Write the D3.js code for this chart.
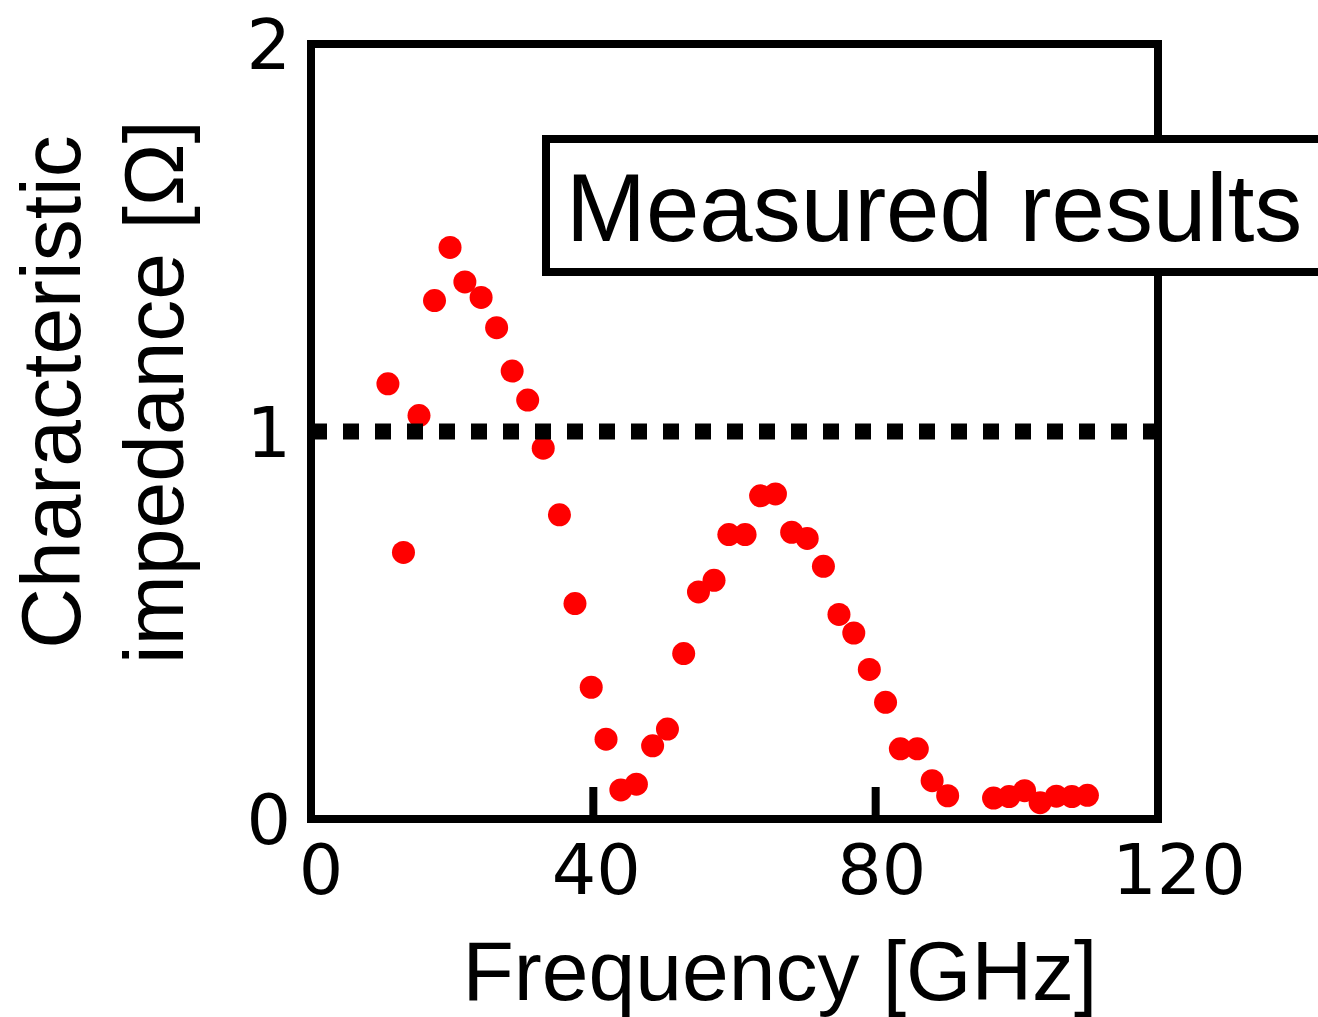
<!DOCTYPE html>
<html>
<head>
<meta charset="utf-8">
<script src="https://cdn.jsdelivr.net/npm/d3@7"></script>
<style>
  html, body { margin: 0; padding: 0; background: #fff; }
  svg { display: block; }
</style>
</head>
<body>
<svg id="chart" width="1318" height="1017"></svg>
<script>
// measured points
const freqGHz = [
  10.9, 13.1, 15.3, 17.5, 19.7, 21.8, 24.1, 26.3, 28.5, 30.7, 32.9, 35.2, 37.4, 39.7, 41.8,
  43.9, 46.1, 48.4, 50.5, 52.8, 54.9, 57.1, 59.2, 61.5, 63.7, 65.8, 68.1, 70.3, 72.6, 74.8,
  76.9, 79.1, 81.4, 83.5, 85.9, 88.0, 90.2, 96.7, 98.9, 101.1, 103.3, 105.6, 107.8, 110.0
];
const impedance = [
  1.123, 0.688, 1.041, 1.338, 1.475, 1.386, 1.346, 1.268, 1.156, 1.081, 0.957, 0.785, 0.556, 0.340, 0.206,
  0.075, 0.090, 0.189, 0.232, 0.427, 0.586, 0.616, 0.734, 0.734, 0.834, 0.839, 0.740, 0.724, 0.652, 0.528,
  0.480, 0.386, 0.301, 0.181, 0.181, 0.099, 0.060, 0.054, 0.058, 0.073, 0.042, 0.059, 0.058, 0.061
];
const xTicks = [0, 40, 80, 120];
const yTicks = [0, 1, 2];
const refLevel = 1;
const legendText = "Measured results";

const svg = d3.select("#chart");
const M = { left: 311, right: 1158, top: 44, bottom: 819 };

const x = d3.scaleLinear().domain([0, 120]).range([M.left, M.right]);
const y = d3.scaleLinear().domain([0, 2]).range([M.bottom, M.top]);

const tickFont = "'DejaVu Sans', sans-serif";
const titleFont = "'Liberation Sans', Arial, sans-serif";

// frame
svg.append("rect")
  .attr("x", M.left).attr("y", M.top)
  .attr("width", M.right - M.left).attr("height", M.bottom - M.top)
  .attr("fill", "none").attr("stroke", "#000").attr("stroke-width", 8);

// inner x ticks (0 and 120 sit on the frame)
svg.append("g").selectAll("line")
  .data(xTicks.filter(d => d > 0 && d < 120)).join("line")
  .attr("x1", d => x(d)).attr("x2", d => x(d))
  .attr("y1", M.bottom).attr("y2", M.bottom - 32)
  .attr("stroke", "#000").attr("stroke-width", 8);

// x tick labels (small nudges to match the original placement)
const xNudge = { 0: 10, 40: 3, 80: 6, 120: 21 };
svg.append("g").selectAll("text")
  .data(xTicks).join("text")
  .attr("x", d => x(d) + xNudge[d])
  .attr("y", 894)
  .attr("text-anchor", "middle")
  .attr("font-family", tickFont).attr("font-size", 70)
  .text(d => d);

// y tick labels
svg.append("g").selectAll("text")
  .data(yTicks).join("text")
  .attr("x", 291)
  .attr("y", d => y(d) + 25)
  .attr("text-anchor", "end")
  .attr("font-family", tickFont).attr("font-size", 70)
  .text(d => d);

// data points
svg.append("g").selectAll("circle")
  .data(freqGHz.map((f, i) => ({ f, z: impedance[i] }))).join("circle")
  .attr("cx", d => x(d.f)).attr("cy", d => y(d.z))
  .attr("r", 11.5)
  .attr("fill", "#ff0000");

// dotted reference line at 1 ohm
svg.append("line")
  .attr("x1", M.left).attr("x2", M.right)
  .attr("y1", y(refLevel)).attr("y2", y(refLevel))
  .attr("stroke", "#000").attr("stroke-width", 16)
  .attr("stroke-dasharray", "16,16");

// legend box, runs off the right edge
svg.append("rect")
  .attr("x", 546).attr("y", 139)
  .attr("width", 820).attr("height", 133)
  .attr("fill", "#fff").attr("stroke", "#000").attr("stroke-width", 8);
svg.append("text")
  .attr("x", 566).attr("y", 241)
  .attr("font-family", titleFont).attr("font-size", 96)
  .text(legendText);

// axis titles
svg.append("text")
  .attr("x", 780).attr("y", 1000)
  .attr("text-anchor", "middle")
  .attr("font-family", titleFont).attr("font-size", 84)
  .text("Frequency [GHz]");

const yTitle = svg.append("text")
  .attr("transform", "translate(0,392) rotate(-90)")
  .attr("text-anchor", "middle")
  .attr("font-family", titleFont).attr("font-size", 84);
yTitle.append("tspan").attr("x", 0).attr("y", 80).text("Characteristic");
yTitle.append("tspan").attr("x", 0).attr("y", 183).text("impedance [Ω]");
</script>
</body>
</html>
